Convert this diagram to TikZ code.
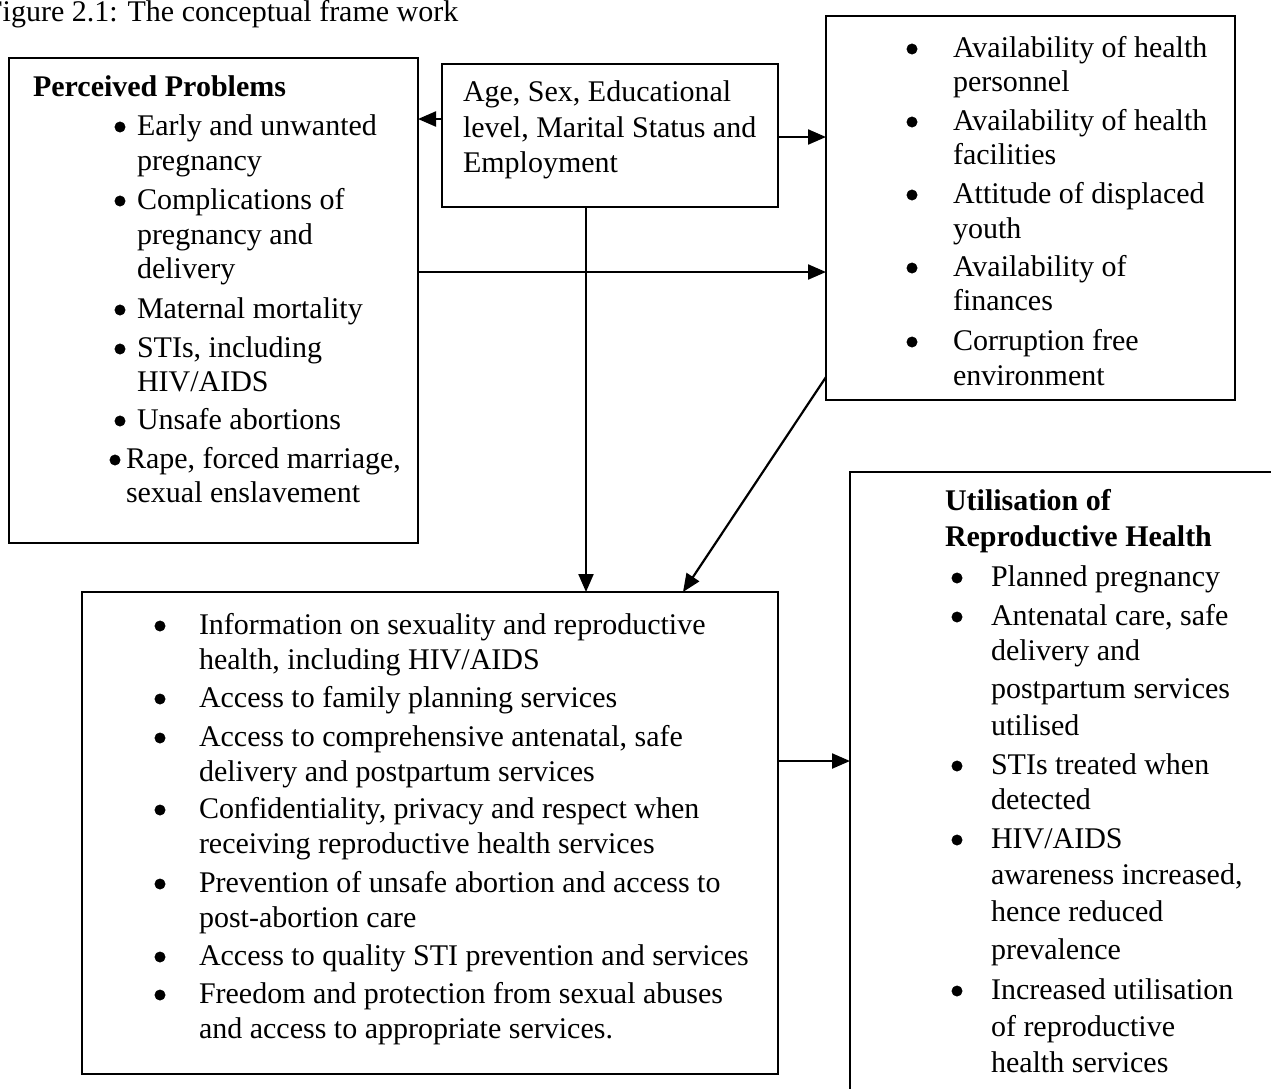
\documentclass[tikz,border=0pt]{standalone}
\usepackage{fontspec}
\setmainfont{Liberation Serif}
\usetikzlibrary{arrows.meta}
\tikzset{
  box/.style={draw, line width=2.4pt, inner sep=0pt, outer sep=0pt, anchor=north west},
  txt/.style={anchor=base west, inner sep=0pt, outer sep=0pt, font=\fontsize{30}{35}\selectfont},
  hd/.style={txt, font=\fontsize{30}{35}\selectfont\bfseries},
  arr/.style={line width=2.2pt, -{Triangle[length=18pt,width=15pt]}},
  dotb/.style={fill=black, draw=black, line width=0.5pt}
}
\begin{document}
\begin{tikzpicture}[x=1pt,y=-1pt]
\useasboundingbox (0,0) rectangle (1271,1088);
\clip (0,0) rectangle (1271,1088);

% title
\node[txt] (title) at (-14,21) {Figure 2.1: The conceptual frame work};

% boxes
\node[box, minimum width=409pt, minimum height=485pt] (pp) at (9,58) {};
\node[box, minimum width=336pt, minimum height=143pt] (age) at (442,64) {};
\node[box, minimum width=409pt, minimum height=384pt] (rt) at (826,16) {};
\node[box, minimum width=696pt, minimum height=482pt] (bm) at (82,592) {};
\node[box, minimum width=480pt, minimum height=700pt] (ut) at (850,472) {};

% Perceived problems
\node[hd] (pph) at (33,96) {Perceived Problems};
\foreach \y in {127,201,310,349,421} \filldraw[dotb] (120,\y) circle (5.2pt);
\filldraw[dotb] (115,460) circle (5.2pt);
\node[txt] (pp1) at (137,135) {Early and unwanted};
\node[txt] (pp2) at (137,170) {pregnancy};
\node[txt] (pp3) at (137,209) {Complications of};
\node[txt] (pp4) at (137,244) {pregnancy and};
\node[txt] (pp5) at (137,278) {delivery};
\node[txt] (pp6) at (137,318) {Maternal mortality};
\node[txt] (pp7) at (137,357) {STIs, including};
\node[txt] (pp8) at (137,391) {HIV/AIDS};
\node[txt] (pp9) at (137,429) {Unsafe abortions};
\node[txt] (pp10) at (126,468) {Rape, forced marriage,};
\node[txt] (pp11) at (126,502) {sexual enslavement};

% Age box
\node[txt] (ag1) at (463,101) {Age, Sex, Educational};
\node[txt] (ag2) at (463,137) {level, Marital Status and};
\node[txt] (ag3) at (463,172) {Employment};

% right top box
\foreach \y in {49,122,195,268,342} \filldraw[dotb] (912,\y) circle (5.2pt);
\node[txt] (rt1) at (953,57) {Availability of health};
\node[txt] (rt2) at (953,91) {personnel};
\node[txt] (rt3) at (953,130) {Availability of health};
\node[txt] (rt4) at (953,164) {facilities};
\node[txt] (rt5) at (953,203) {Attitude of displaced};
\node[txt] (rt6) at (953,238) {youth};
\node[txt] (rt7) at (953,276) {Availability of};
\node[txt] (rt8) at (953,310) {finances};
\node[txt] (rt9) at (953,350) {Corruption free};
\node[txt] (rt10) at (953,385) {environment};

% bottom middle box
\foreach \y in {626,699,738,810,884,957,995} \filldraw[dotb] (160,\y) circle (5.2pt);
\node[txt] (bm1) at (199,634) {Information on sexuality and reproductive};
\node[txt] (bm2) at (199,669) {health, including HIV/AIDS};
\node[txt] (bm3) at (199,707) {Access to family planning services};
\node[txt] (bm4) at (199,746) {Access to comprehensive antenatal, safe};
\node[txt] (bm5) at (199,781) {delivery and postpartum services};
\node[txt] (bm6) at (199,818) {Confidentiality, privacy and respect when};
\node[txt] (bm7) at (199,853) {receiving reproductive health services};
\node[txt] (bm8) at (199,892) {Prevention of unsafe abortion and access to};
\node[txt] (bm9) at (199,927) {post-abortion care};
\node[txt] (bm10) at (199,965) {Access to quality STI prevention and services};
\node[txt] (bm11) at (199,1003) {Freedom and protection from sexual abuses};
\node[txt] (bm12) at (199,1038) {and access to appropriate services.};

% utilisation box
\node[hd] (uth1) at (945,510) {Utilisation of};
\node[hd] (uth2) at (945,546) {Reproductive Health};
\foreach \y in {578,617,766,840,991} \filldraw[dotb] (957,\y) circle (5.2pt);
\node[txt] (ut1) at (991,586) {Planned pregnancy};
\node[txt] (ut2) at (991,625) {Antenatal care, safe};
\node[txt] (ut3) at (991,660) {delivery and};
\node[txt] (ut4) at (991,698) {postpartum services};
\node[txt] (ut5) at (991,735) {utilised};
\node[txt] (ut6) at (991,774) {STIs treated when};
\node[txt] (ut7) at (991,809) {detected};
\node[txt] (ut8) at (991,848) {HIV/AIDS};
\node[txt] (ut9) at (991,884) {awareness increased,};
\node[txt] (ut10) at (991,921) {hence reduced};
\node[txt] (ut11) at (991,959) {prevalence};
\node[txt] (ut12) at (991,999) {Increased utilisation};
\node[txt] (ut13) at (991,1036) {of reproductive};
\node[txt] (ut14) at (991,1072) {health services};

% connectors
\draw[arr] ([yshift=16.5pt]age.west) coordinate (c1) -- (c1 -| pp.east);
\draw[arr] ([yshift=-1.5pt]age.east) coordinate (c2) -- (c2 -| rt.west);
\draw[arr] ([yshift=28.5pt]pp.east) coordinate (c3) -- (c3 -| rt.west);
\draw[arr] ([xshift=-24pt]age.south) coordinate (c4) -- (c4 |- bm.north);
\draw[arr] ([yshift=23pt]rt.south west) -- ([xshift=253pt]bm.north);
\draw[arr] ([yshift=72pt]bm.east) coordinate (c5) -- (c5 -| ut.west);
\end{tikzpicture}
\end{document}
